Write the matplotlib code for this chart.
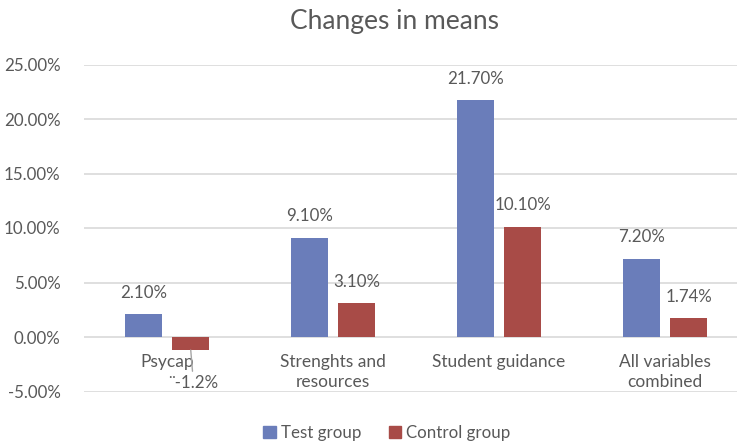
import matplotlib
matplotlib.use("Agg")
import matplotlib.pyplot as plt
from matplotlib.patches import Patch
import numpy as np

plt.rcParams['font.family'] = ['Lato', 'DejaVu Sans']

categories = ["Psycap", "Strenghts and\nresources", "Student guidance", "All variables\ncombined"]
test_group = [0.021, 0.091, 0.217, 0.072]
control_group = [-0.012, 0.031, 0.101, 0.0174]
test_labels = ["2.10%", "9.10%", "21.70%", "7.20%"]
control_labels = ["\u00a8-1.2%", "3.10%", "10.10%", "1.74%"]
yticks = [-0.05, 0.0, 0.05, 0.10, 0.15, 0.20, 0.25]
ytick_labels = ["-5.00%", "0.00%", "5.00%", "10.00%", "15.00%", "20.00%", "25.00%"]

BLUE = "#6A7DBA"
RED = "#A84B47"
TXT = "#595959"
GRID = "#D9D9D9"

fig = plt.figure(figsize=(7.37, 4.46), dpi=100)
ax = fig.add_axes([84/737, 1-391.5/446, 664/737, 327/446])

x = np.arange(len(categories))
w = 0.226
off = 0.143
ax.bar(x - off, test_group, w, color=BLUE, zorder=3)
ax.bar(x + off, control_group, w, color=RED, zorder=3)

ax.set_xlim(-0.5, len(categories) - 0.5)
ax.set_ylim(-0.05, 0.25)
ax.set_yticks(yticks)
ax.set_yticklabels(ytick_labels, color=TXT, fontsize=12.2)
ax.tick_params(axis='y', length=0, pad=17)
ax.set_xticks([])
for s in ax.spines.values():
    s.set_visible(False)
ax.grid(axis='y', color=GRID, linewidth=1.2, zorder=0)

for i, cat in enumerate(categories):
    ax.annotate(cat, xy=(i, 0), xytext=(0, -12.5), textcoords='offset points',
                ha='center', va='top', fontsize=12.5, color=TXT, linespacing=1.3)

for i, (v, lab) in enumerate(zip(test_group, test_labels)):
    ax.annotate(lab, xy=(i - off, v), xytext=(0, 15.5), textcoords='offset points',
                ha='center', va='center', fontsize=12.2, color=TXT)
for i, (v, lab) in enumerate(zip(control_group, control_labels)):
    if v >= 0:
        ax.annotate(lab, xy=(i + off, v), xytext=(0, 15.5), textcoords='offset points',
                    ha='center', va='center', fontsize=12.2, color=TXT)
    else:
        ax.annotate(lab, xy=(i + off, v), xytext=(2, -24), textcoords='offset points',
                    ha='center', va='center', fontsize=12.2, color=TXT,
                    arrowprops=dict(arrowstyle='-', color='#A6A6A6', lw=1,
                                    shrinkA=1, shrinkB=0))

fig.text(394/737, 1-22/446, "Changes in means", ha='center', va='center',
         fontsize=19, color=TXT)

handles = [Patch(color=BLUE, label="Test group"), Patch(color=RED, label="Control group")]
fig.legend(handles=handles, loc='center', bbox_to_anchor=(387/737, 1-433/446),
           ncol=2, frameon=False, fontsize=12.2, labelcolor=TXT,
           handlelength=0.75, handleheight=0.75, handletextpad=0.3, columnspacing=1.6)

fig.savefig("out.png", dpi=100)
